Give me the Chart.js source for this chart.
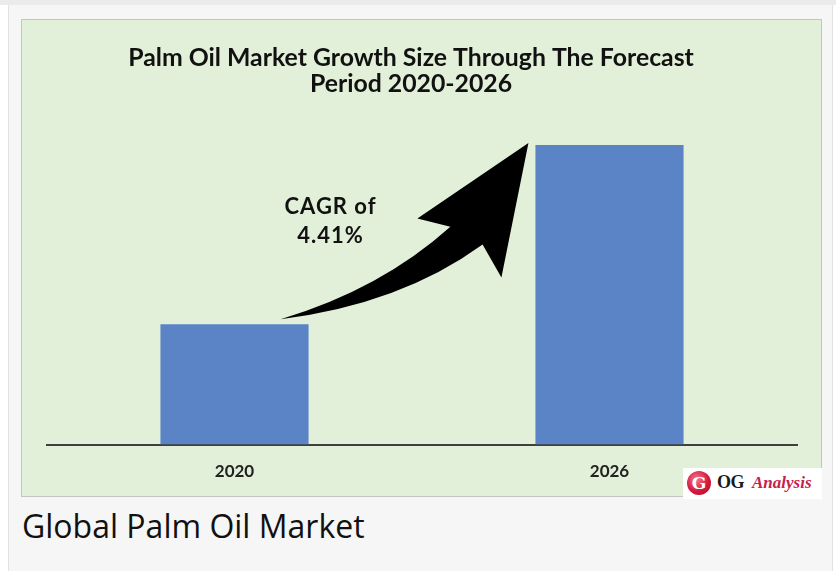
<!DOCTYPE html>
<html>
<head>
<meta charset="utf-8">
<script src="https://cdn.jsdelivr.net/npm/chart.js@4.4.0/dist/chart.umd.min.js"></script>
<style>
  html, body { margin: 0; padding: 0; background: #ffffff; width: 836px; height: 571px; overflow: hidden; }
  #topstrip { position: absolute; left: 0; top: 0; width: 836px; height: 5px; background: #ebebeb; }
  #frame { position: absolute; left: 8px; top: 5px; width: 823px; height: 566px; background: #f6f6f6;
           border-left: 1px solid #e2e2e2; border-right: 1px solid #e2e2e2; }
  #panel { position: absolute; left: 21px; top: 19px; width: 799px; height: 476px; background: #e2efd9;
           border: 1px solid #c2c6c0; }
  #panel canvas { position: absolute; left: 0; top: 0; }
  #caption { position: absolute; left: 22px; top: 506px; font-family: "Open Sans", sans-serif; font-size: 32px;
             color: #111; line-height: 40px; white-space: nowrap; }
  #logo { position: absolute; left: 683px; top: 468px; width: 139px; height: 31px; background: #ffffff; }
  #logo .ball { position: absolute; left: 4px; top: 3px; width: 24px; height: 24px; border-radius: 50%;
                background: radial-gradient(circle at 40% 35%, #f27a8e 0%, #d5193f 55%, #a80d2c 100%);
                color: #fff; font: bold 17px "DejaVu Serif", serif; text-align: center; line-height: 24px; }
  #logo .og { position: absolute; left: 34px; top: 4px; font: bold 18px "Liberation Serif", serif; color: #1a1a1a; letter-spacing: -0.5px; }
  #logo .an { position: absolute; left: 69px; top: 5px; font: italic bold 17px "Liberation Serif", serif; color: #c8204a; }
</style>
</head>
<body>
<div id="topstrip"></div>
<div id="frame"></div>
<div id="panel"><canvas id="c" width="799" height="479"></canvas></div>
<div id="caption">Global Palm Oil Market</div>
<div id="logo"><div class="ball">G</div><div class="og">OG</div><div class="an">Analysis</div></div>
<script>
// ---- data (relative bar heights; 2026 = 100) ----
const categories = ["2020", "2026"];
const marketSize = [40.2, 100];
const titleLines = ["Palm Oil Market Growth Size Through The Forecast", "Period 2020-2026"];
const cagrLines = ["CAGR of", "4.41%"];

const decorPlugin = {
  id: 'decor',
  afterDatasetsDraw(chart) {
    const meta = chart.getDatasetMeta(0);
    const b1 = meta.data[0], b2 = meta.data[1];
    const w1 = b1.width, w2 = b2.width;
    const T = { x: b1.x + w1 / 2 - 28, y: b1.y - 5 };
    const P = { x: b2.x - w2 / 2 - 7, y: b2.y - 2 };
    const dx = P.x - T.x, dy = P.y - T.y;
    const pt = (u, v) => [T.x + u * dx, T.y + v * dy];
    const ctx = chart.ctx;
    ctx.save();
    ctx.fillStyle = '#000';
    ctx.beginPath();
    ctx.moveTo(T.x, T.y);
    let c = pt(0.484, 0.085), e = pt(0.815, 0.424);
    ctx.quadraticCurveTo(c[0], c[1], e[0], e[1]);
    let r = pt(0.891, 0.237); ctx.lineTo(r[0], r[1]);
    ctx.lineTo(P.x, P.y);
    let l = pt(0.552, 0.571); ctx.lineTo(l[0], l[1]);
    let i = pt(0.685, 0.525); ctx.lineTo(i[0], i[1]);
    c = pt(0.403, 0.169);
    ctx.quadraticCurveTo(c[0], c[1], T.x, T.y);
    ctx.closePath();
    ctx.fill();
    // CAGR label
    ctx.fillStyle = '#111';
    ctx.font = 'bold 22px Lato, sans-serif';
    if ('letterSpacing' in ctx) ctx.letterSpacing = '1px';
    ctx.textAlign = 'center';
    ctx.textBaseline = 'middle';
    ctx.fillText(cagrLines[0], T.x + 50, T.y - 112);
    ctx.fillText(cagrLines[1], T.x + 50, T.y - 83);
    ctx.restore();
  },
  afterDraw(chart) {
    const ctx = chart.ctx;
    const ca = chart.chartArea;
    const cx = (ca.left + ca.right) / 2 - 11;
    ctx.save();
    ctx.fillStyle = '#111';
    ctx.font = 'bold 24.8px Lato, sans-serif';
    ctx.textAlign = 'center';
    ctx.textBaseline = 'middle';
    ctx.fillText(titleLines[0], cx, 38);
    ctx.fillText(titleLines[1], cx, 64);
    ctx.restore();
  }
};

new Chart(document.getElementById('c'), {
  type: 'bar',
  data: {
    labels: categories,
    datasets: [{
      data: marketSize,
      backgroundColor: '#5b84c6',
      borderWidth: 0,
      barPercentage: 0.395,
      categoryPercentage: 1
    }]
  },
  options: {
    responsive: false,
    devicePixelRatio: 1,
    animation: false,
    layout: { padding: { left: 25, right: 24, top: 125, bottom: 0 } },
    plugins: {
      legend: { display: false },
      tooltip: { enabled: false },
      title: { display: false }
    },
    scales: {
      x: {
        grid: { display: false, drawTicks: false },
        border: { display: true, color: '#3f3f3f', width: 2 },
        ticks: { color: '#222', font: { family: 'Lato, sans-serif', size: 17, weight: 'bold' }, padding: 17 }
      },
      y: { display: false, min: 0, max: 100 }
    }
  },
  plugins: [decorPlugin]
});
</script>
</body>
</html>
